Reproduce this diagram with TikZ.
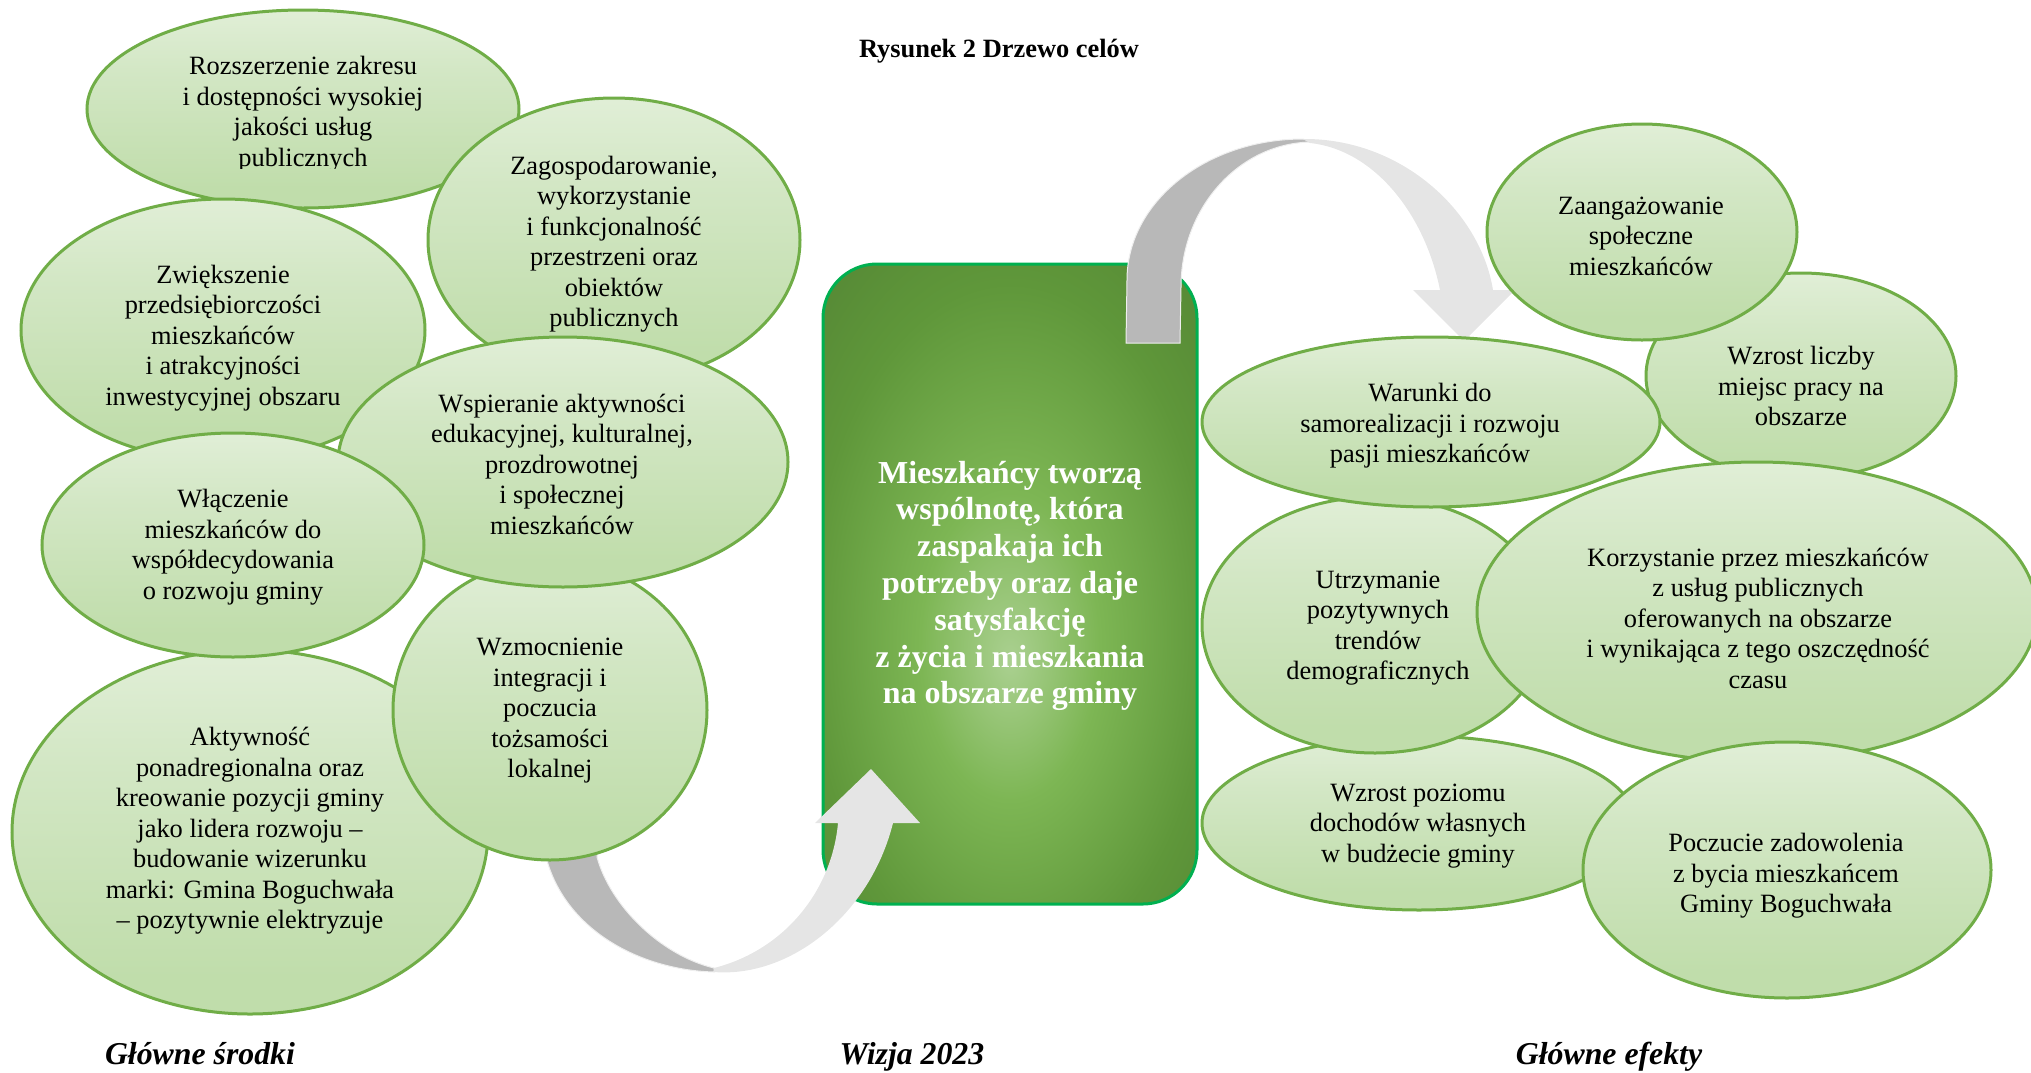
\documentclass[tikz,border=0pt]{standalone}
\usepackage{fontspec}
\setmainfont{Liberation Serif}
\usetikzlibrary{shapes.geometric}
\definecolor{bubT}{HTML}{F7FBF4}
\definecolor{bubM}{HTML}{D3E7C5}
\definecolor{bubB}{HTML}{C0DDAB}
\definecolor{bubE}{HTML}{70AD47}
\definecolor{visC}{HTML}{AAD090}
\definecolor{visM}{HTML}{7DB654}
\definecolor{visO}{HTML}{5F973A}
\definecolor{visP}{HTML}{4F7E32}
\definecolor{visE}{HTML}{456C2A}
\definecolor{visB}{HTML}{00B050}
\definecolor{ribD}{HTML}{B8B8B8}
\definecolor{ribL}{HTML}{E5E5E5}
\pgfdeclareverticalshading{bubshade}{100bp}{color(0bp)=(bubB); color(30bp)=(bubB); color(60bp)=(bubM); color(100bp)=(bubT)}
\pgfdeclareradialshading{visshade}{\pgfpoint{0bp}{-6bp}}{color(0bp)=(visC); color(12bp)=(visM); color(27bp)=(visO); color(44bp)=(visP); color(64bp)=(visE)}
\tikzset{
  bubble/.style={ellipse, draw=bubE, line width=1.5pt, shading=bubshade, inner sep=0pt, outer sep=0pt},
  btxt/.style={align=center, inner sep=0pt, text=black, font=\fontsize{13.2}{15.25}\selectfont},
  vistxt/.style={align=center, inner sep=0pt, text=white, font=\bfseries\fontsize{16}{18.4}\selectfont},
  lab/.style={inner sep=0pt, font=\bfseries\itshape\fontsize{15.9}{18}\selectfont},
  ttl/.style={inner sep=0pt, font=\bfseries\fontsize{13.2}{15}\selectfont},
  darkrib/.style={fill=ribD, draw=ribL!60!white, line width=0.5pt},
  lightrib/.style={fill=ribL}
}
\newcommand{\bub}[8]{%
  \node[bubble, minimum width=#4pt, minimum height=#5pt] (#1) at (#2,#3) {};
  \node[btxt] (#1t) at (#6,#7) {#8};}
\begin{document}
\begin{tikzpicture}[x=0.5pt, y=-0.5pt]
\useasboundingbox (0,0) rectangle (2031,1072);

% central box
\node[draw=visB, line width=1.5pt, rounded corners=27pt, shading=visshade,
      minimum width=187pt, minimum height=320pt, inner sep=0pt] (vis) at (1010,584) {};

% bottom ribbon arrow
\fill[darkrib] (546,830) -- (546,857) .. controls (565,930) and (640,970) .. (714,972)
  -- (714,968) .. controls (660,955) and (610,905) .. (597,857) -- (597,830) -- cycle;
\fill[lightrib] (714,972) .. controls (790,978) and (870,915) .. (893,823) -- (920,823)
  -- (871,769) -- (815,823) -- (838,823) .. controls (832,890) and (785,950) .. (714,968) -- cycle;

% top ribbon arrow
\fill[darkrib] (1126,343) -- (1127,280) .. controls (1127,202) and (1206,139) .. (1303,139)
  -- (1313,142) .. controls (1240,142) and (1181,207) .. (1181,287) -- (1180,343) -- cycle;
\fill[lightrib] (1303,139) .. controls (1400,138) and (1480,210) .. (1493,290) -- (1515,290)
  -- (1464,341) -- (1413,290) -- (1440,290) .. controls (1425,215) and (1375,150) .. (1310,143) -- cycle;

% left bubbles
\node[bubble, minimum width=216pt, minimum height=99pt] (a) at (303,109) {};
\begin{scope}
  \clip (80,20) rectangle (530,168);
  \node[btxt] (at) at (303,114) {Rozszerzenie zakresu\\i dostępności wysokiej\\jakości usług\\publicznych};
\end{scope}
\bub{b}{614}{240}{186}{142}{614}{244}{Zagospodarowanie,\\wykorzystanie\\i funkcjonalność\\przestrzeni oraz\\obiektów\\publicznych}
\bub{c}{223}{330}{202}{131}{223}{338}{Zwiększenie\\przedsiębiorczości\\mieszkańców\\i atrakcyjności\\inwestycyjnej obszaru}
\bub{g}{250}{832}{238}{182}{250}{831}{Aktywność\\ponadregionalna oraz\\kreowanie pozycji gminy\\jako lidera rozwoju –\\budowanie wizerunku\\marki: Gmina Boguchwała\\– pozytywnie elektryzuje}
\bub{f}{550}{710}{157}{150}{550}{711}{Wzmocnienie\\integracji i\\poczucia\\tożsamości\\lokalnej}
\bub{d}{563}{462}{225}{125}{562}{464}{Wspieranie aktywności\\edukacyjnej, kulturalnej,\\prozdrowotnej\\i społecznej\\mieszkańców}
\bub{e}{233}{545}{191}{112}{233}{547}{Włączenie\\mieszkańców do\\współdecydowania\\o rozwoju gminy}

% right bubbles
\bub{i}{1801}{376}{155}{103}{1801}{386}{Wzrost liczby\\miejsc pracy na\\obszarze}
\bub{h}{1642}{232}{155}{108}{1641}{236}{Zaangażowanie\\społeczne\\mieszkańców}
\bub{m}{1419}{823}{217}{87}{1418}{826}{Wzrost poziomu\\dochodów własnych\\w budżecie gminy}
\bub{k}{1375}{625}{173}{128}{1378}{628}{Utrzymanie\\pozytywnych\\trendów\\demograficznych}
\bub{j}{1431}{422}{229}{85}{1430}{426}{Warunki do\\samorealizacji i rozwoju\\pasji mieszkańców}
\bub{l}{1757}{612}{280}{150}{1758}{618}{Korzystanie przez mieszkańców\\z usług publicznych\\oferowanych na obszarze\\i wynikająca z tego oszczędność\\czasu}
\bub{n}{1787}{870}{204}{128}{1786}{876}{Poczucie zadowolenia\\z bycia mieszkańcem\\Gminy Boguchwała}

% central text
\node[vistxt] (vt) at (1010,586) {Mieszkańcy tworzą\\wspólnotę, która\\zaspakaja ich\\potrzeby oraz daje\\satysfakcję\\z życia i mieszkania\\na obszarze gminy};

% labels
\node[ttl, anchor=base] (title) at (999,57) {Rysunek 2 Drzewo celów};
\node[lab, anchor=base] (l1) at (200,1064) {Główne środki};
\node[lab, anchor=base] (l2) at (912,1064) {Wizja 2023};
\node[lab, anchor=base] (l3) at (1609,1064) {Główne efekty};
\end{tikzpicture}
\end{document}
